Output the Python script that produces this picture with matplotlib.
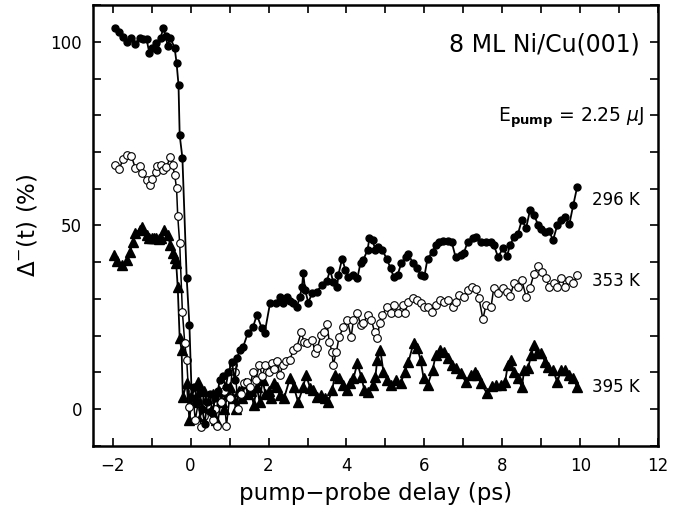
import numpy as np
import matplotlib
matplotlib.use("Agg")
import matplotlib.pyplot as plt
from matplotlib.ticker import MultipleLocator

plt.rcParams['font.family'] = ['DejaVu Sans']
plt.rcParams['mathtext.fontset'] = 'dejavusans'

# 296 K (filled circles)
x296 = [-1.93, -1.83, -1.73, -1.62, -1.52, -1.42, -1.31, -1.21, -1.13, -1.06,
        -0.98, -0.90, -0.85, -0.77, -0.70, -0.64, -0.59, -0.52, -0.41, -0.36,
        -0.31, -0.28, -0.21, -0.10, -0.03, 0.03, 0.10, 0.17, 0.23, 0.30,
        0.36, 0.43, 0.50, 0.56, 0.63, 0.70, 0.75, 0.83, 0.90, 0.97,
        1.06, 1.13, 1.20, 1.26, 1.35, 1.47, 1.60, 1.70, 1.83, 1.90,
        2.04, 2.20, 2.29, 2.38, 2.47, 2.55, 2.63, 2.73, 2.80, 2.86,
        2.89, 2.94, 3.02, 3.12, 3.24, 3.37, 3.50, 3.58, 3.66, 3.76,
        3.79, 3.89, 3.97, 4.05, 4.18, 4.28, 4.36, 4.43, 4.54, 4.59,
        4.67, 4.74, 4.82, 4.92, 5.03, 5.13, 5.21, 5.31, 5.41, 5.52,
        5.59, 5.70, 5.82, 5.90, 6.00, 6.08, 6.21, 6.29, 6.37, 6.47,
        6.60, 6.70, 6.80, 6.93, 7.01, 7.11, 7.24, 7.32, 7.45, 7.58,
        7.71, 7.78, 7.89, 8.02, 8.12, 8.20, 8.30, 8.40, 8.50, 8.61,
        8.71, 8.81, 8.92, 8.99, 9.10, 9.20, 9.30, 9.41, 9.51, 9.61,
        9.72, 9.82, 9.92]
y296 = [103.8, 102.7, 101.4, 100.0, 101.0, 99.5, 101.0, 100.8, 100.8, 97.0,
        98.4, 99.7, 97.8, 101.0, 103.8, 101.6, 99.0, 101.0, 98.4, 94.3,
        88.3, 74.6, 68.4, 35.7, 22.9, 3.0, 6.0, 2.0, 5.0, 0.0,
        -4.0, 2.0, 4.0, -1.0, 3.0, 5.0, 8.0, 9.0, 6.0, 10.0,
        12.8, 8.0, 14.0, 16.0, 17.0, 20.7, 22.3, 25.6, 22.0, 20.7,
        28.9, 29.0, 30.5, 29.0, 30.5, 29.5, 28.9, 27.8, 30.5, 33.2,
        37.0, 32.4, 29.0, 31.6, 32.0, 33.8, 35.0, 37.9, 34.6, 33.2,
        36.5, 41.0, 37.9, 36.0, 36.5, 35.7, 39.8, 40.6, 43.3, 46.6,
        46.0, 43.3, 44.0, 43.3, 41.0, 38.4, 36.0, 36.5, 39.8, 41.4,
        42.2, 39.8, 38.4, 36.5, 36.2, 41.0, 42.8, 44.7, 45.5, 45.8,
        45.8, 45.5, 41.4, 42.0, 42.5, 45.5, 46.6, 46.9, 45.5, 45.5,
        45.5, 44.7, 41.4, 43.9, 41.7, 44.7, 46.9, 47.7, 51.5, 49.3,
        54.2, 52.9, 50.1, 49.0, 48.2, 48.5, 46.0, 50.1, 51.5, 52.3,
        50.4, 55.6, 60.5]

# 353 K (open circles)
x353 = [-1.93, -1.83, -1.73, -1.62, -1.52, -1.42, -1.31, -1.24, -1.13, -1.03,
        -0.98, -0.90, -0.85, -0.75, -0.70, -0.62, -0.52, -0.46, -0.41, -0.36,
        -0.33, -0.28, -0.21, -0.15, -0.10, -0.03, 0.05, 0.12, 0.20, 0.27,
        0.35, 0.42, 0.50, 0.57, 0.63, 0.69, 0.77, 0.85, 0.92, 1.00,
        1.08, 1.15, 1.22, 1.30, 1.37, 1.44, 1.52, 1.60, 1.68, 1.76,
        1.84, 1.92, 2.00, 2.08, 2.15, 2.22, 2.29, 2.37, 2.45, 2.55,
        2.63, 2.73, 2.84, 2.91, 2.99, 3.12, 3.20, 3.25, 3.35, 3.43,
        3.50, 3.56, 3.63, 3.66, 3.74, 3.81, 3.92, 4.02, 4.12, 4.18,
        4.28, 4.36, 4.43, 4.54, 4.64, 4.72, 4.79, 4.85, 4.92, 5.03,
        5.13, 5.21, 5.31, 5.44, 5.49, 5.59, 5.70, 5.82, 5.90, 5.98,
        6.10, 6.20, 6.29, 6.39, 6.49, 6.60, 6.73, 6.80, 6.88, 7.01,
        7.11, 7.22, 7.32, 7.40, 7.50, 7.58, 7.71, 7.78, 7.89, 8.02,
        8.12, 8.20, 8.30, 8.40, 8.50, 8.61, 8.71, 8.81, 8.92, 9.02,
        9.12, 9.20, 9.33, 9.41, 9.51, 9.61, 9.72, 9.82, 9.92]
y353 = [66.5, 65.4, 68.1, 69.2, 68.9, 65.7, 66.2, 64.3, 62.4, 61.0,
        62.7, 64.6, 66.2, 66.5, 65.1, 65.9, 68.7, 66.5, 63.8, 60.2,
        52.6, 45.2, 26.4, 18.0, 13.4, 0.5, 5.0, -3.0, 2.0, -5.0,
        -2.0, 1.0, 3.0, -3.0, 0.0, -4.6, 2.0, 5.0, -4.6, 3.0,
        12.0, 10.0, 0.0, 4.0, 7.0, 7.4, 6.0, 10.0, 8.0, 12.0,
        9.0, 12.0, 10.0, 12.5, 11.0, 13.0, 9.3, 12.0, 13.0, 13.4,
        16.0, 17.0, 21.0, 18.3, 18.0, 18.8, 15.3, 16.6, 20.2, 21.0,
        23.2, 18.3, 15.5, 12.0, 15.5, 19.6, 22.3, 24.3, 19.6, 24.3,
        26.2, 22.9, 23.4, 25.6, 24.3, 21.0, 19.3, 23.4, 25.6, 27.8,
        26.2, 28.3, 26.2, 28.3, 26.2, 29.2, 30.2, 29.7, 28.8, 27.8,
        27.8, 26.5, 28.3, 29.7, 29.2, 29.7, 27.8, 29.2, 31.0, 30.5,
        32.4, 33.2, 32.7, 30.2, 24.5, 28.3, 27.8, 33.0, 31.6, 33.0,
        31.9, 30.8, 34.3, 33.2, 35.1, 30.5, 33.0, 36.8, 39.0, 37.3,
        35.7, 33.2, 34.3, 33.2, 35.7, 33.2, 35.1, 34.3, 36.5]

# 395 K (filled triangles)
x395 = [-1.96, -1.88, -1.75, -1.62, -1.55, -1.49, -1.42, -1.31, -1.24, -1.13,
        -1.06, -1.00, -0.94, -0.88, -0.81, -0.75, -0.67, -0.59, -0.52, -0.46,
        -0.41, -0.37, -0.33, -0.28, -0.23, -0.20, -0.10, -0.03, 0.05, 0.12,
        0.20, 0.27, 0.35, 0.42, 0.50, 0.57, 0.65, 0.72, 0.80, 0.87,
        0.95, 1.02, 1.10, 1.17, 1.25, 1.32, 1.40, 1.47, 1.55, 1.62,
        1.70, 1.77, 1.85, 1.92, 2.00, 2.07, 2.15, 2.22, 2.29, 2.40,
        2.55, 2.65, 2.76, 2.89, 2.96, 3.07, 3.14, 3.24, 3.35, 3.45,
        3.53, 3.63, 3.71, 3.81, 3.92, 4.02, 4.10, 4.18, 4.28, 4.38,
        4.46, 4.56, 4.67, 4.74, 4.79, 4.87, 4.95, 5.05, 5.15, 5.26,
        5.39, 5.49, 5.59, 5.72, 5.82, 5.90, 5.98, 6.08, 6.21, 6.29,
        6.39, 6.49, 6.60, 6.70, 6.80, 6.93, 7.06, 7.19, 7.29, 7.35,
        7.45, 7.60, 7.73, 7.84, 7.96, 8.07, 8.14, 8.22, 8.30, 8.40,
        8.50, 8.56, 8.66, 8.74, 8.81, 8.89, 8.99, 9.10, 9.18, 9.30,
        9.41, 9.51, 9.61, 9.72, 9.82, 9.92]
y395 = [42.0, 40.3, 39.2, 40.6, 42.8, 45.5, 48.0, 48.8, 49.6, 47.4,
        46.6, 46.6, 46.5, 46.6, 46.4, 46.6, 48.8, 47.4, 44.7, 42.5,
        41.1, 39.8, 33.2, 19.3, 16.0, 3.3, 7.0, -3.0, 5.0, 2.0,
        7.4, -2.0, 5.0, 3.0, 0.0, 4.0, -3.0, 5.0, 2.0, 0.0,
        4.0, 6.0, 3.0, 0.0, 5.0, 3.0, 7.0, 4.0, 5.0, 1.0,
        6.0, 2.0, 8.0, 4.0, 5.0, 3.0, 7.0, 6.0, 3.8, 3.0,
        8.4, 6.0, 1.9, 6.0, 9.3, 5.7, 5.2, 3.3, 3.8, 3.0,
        1.9, 5.2, 9.3, 8.4, 6.5, 5.2, 7.0, 8.4, 12.5, 8.7,
        5.2, 4.6, 6.5, 8.7, 13.4, 16.0, 10.0, 7.9, 6.5, 7.9,
        7.0, 10.0, 12.8, 18.0, 16.6, 13.4, 8.4, 6.5, 10.6, 14.7,
        16.0, 15.5, 13.9, 12.0, 11.2, 9.8, 7.4, 9.3, 10.1, 9.3,
        7.0, 4.4, 6.3, 6.5, 6.5, 7.4, 12.0, 13.4, 10.1, 8.4,
        6.0, 10.6, 11.2, 14.7, 17.4, 15.3, 15.3, 12.8, 11.4, 10.6,
        7.4, 10.6, 10.6, 9.3, 8.4, 6.0]

labels = ["296 K", "353 K", "395 K"]
label_y = [57, 35, 6]

fig = plt.figure(figsize=(6.8, 5.13), dpi=100)
ax = fig.add_axes([0.137, 0.131, 0.831, 0.859])

ax.plot(x395, y395, '-^', color='black', lw=1.3, ms=7, mfc='black', mec='black', zorder=2)
ax.plot(x353, y353, '-o', color='black', lw=1.1, ms=5.5, mfc='white', mec='black', mew=0.8, zorder=3)
ax.plot(x296, y296, '-o', color='black', lw=1.3, ms=5, mfc='black', mec='black', zorder=4)

for lab, ly in zip(labels, label_y):
    ax.text(10.3, ly, lab, fontsize=12, va='center', ha='left')

ax.text(0.968, 0.91, "8 ML Ni/Cu(001)", transform=ax.transAxes, fontsize=17,
        ha='right', va='center')
ax.text(0.975, 0.745, r"E$_{\mathbf{pump}}$ = 2.25 $\mathit{\mu}$J", transform=ax.transAxes,
        fontsize=13.5, ha='right', va='center')

ax.set_xlim(-2.5, 12)
ax.set_ylim(-10, 110)
ax.xaxis.set_major_locator(MultipleLocator(2))
ax.xaxis.set_minor_locator(MultipleLocator(1))
ax.yaxis.set_major_locator(MultipleLocator(50))
ax.yaxis.set_minor_locator(MultipleLocator(10))
ax.tick_params(which='both', direction='in', top=True, right=True,
               length=6, width=1.2, labelsize=12, pad=8)

for s in ax.spines.values():
    s.set_linewidth(1.8)

ax.set_xlabel("pump\u2212probe delay (ps)", fontsize=16.5, labelpad=5)
ax.set_ylabel(r"$\Delta^{-}$(t) (%)", fontsize=16.5, labelpad=8)

fig.savefig("out.png", dpi=100)
